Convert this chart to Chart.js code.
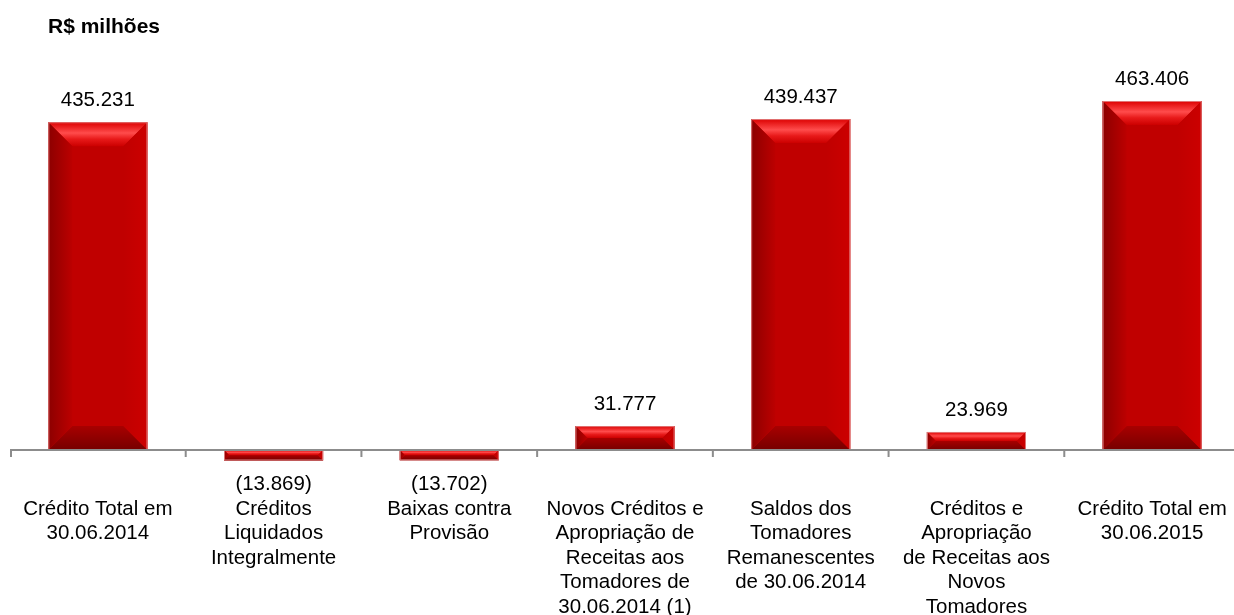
<!DOCTYPE html>
<html>
<head>
<meta charset="utf-8">
<script src="https://cdn.jsdelivr.net/npm/chart.js@4.4.1/dist/chart.umd.min.js"></script>
<style>
  html, body { margin: 0; padding: 0; background: #fff; overflow: hidden; }
  #wrap { position: relative; width: 1240px; height: 615px; }
</style>
</head>
<body>
<div id="wrap"><canvas id="chart"></canvas></div>
<script>
const categories = [
  ["Crédito Total em", "30.06.2014"],
  ["Créditos", "Liquidados", "Integralmente"],
  ["Baixas contra", "Provisão"],
  ["Novos Créditos e", "Apropriação de", "Receitas aos", "Tomadores de", "30.06.2014 (1)"],
  ["Saldos dos", "Tomadores", "Remanescentes", "de 30.06.2014"],
  ["Créditos e", "Apropriação", "de Receitas aos", "Novos", "Tomadores"],
  ["Crédito Total em", "30.06.2015"]
];
const values = [435231, -13869, -13702, 31777, 439437, 23969, 463406];
const unitLabel = "R$ milhões";

const FONT = '"Liberation Sans", Arial, sans-serif';

function fmt(v) {
  const s = Math.abs(v).toString().replace(/\B(?=(\d{3})+(?!\d))/g, ".");
  return v < 0 ? "(" + s + ")" : s;
}

function grad(ctx, x0, y0, x1, y1, stops) {
  const g = ctx.createLinearGradient(x0, y0, x1, y1);
  stops.forEach(s => g.addColorStop(s[0], s[1]));
  return g;
}

// bevelled bars, axis line, value labels and the unit title
const decor = {
  id: "decor",
  afterDatasetsDraw(chart) {
    const ctx = chart.ctx;
    const meta = chart.getDatasetMeta(0);
    const yScale = chart.scales.y;
    const xScale = chart.scales.x;
    const zeroY = yScale.getPixelForValue(0);

    meta.data.forEach((bar, i) => {
      const w = bar.width;
      const l = bar.x - w / 2, r = bar.x + w / 2;
      const t = Math.min(bar.y, bar.base), b = Math.max(bar.y, bar.base);
      const h = b - t;
      const bv = Math.min(24, h / 2, w / 2);
      ctx.save();
      // top
      ctx.beginPath();
      ctx.moveTo(l, t); ctx.lineTo(r, t); ctx.lineTo(r - bv, t + bv); ctx.lineTo(l + bv, t + bv); ctx.closePath();
      ctx.fillStyle = grad(ctx, 0, t, 0, t + bv, [[0, "#dc0000"], [0.45, "#ff4c4c"], [0.7, "#e81a1a"], [1, "#cc0000"]]);
      ctx.fill();
      // bottom
      ctx.beginPath();
      ctx.moveTo(l, b); ctx.lineTo(r, b); ctx.lineTo(r - bv, b - bv); ctx.lineTo(l + bv, b - bv); ctx.closePath();
      ctx.fillStyle = grad(ctx, 0, b - bv, 0, b, [[0, "#a80000"], [1, "#760000"]]);
      ctx.fill();
      // left
      ctx.beginPath();
      ctx.moveTo(l, t); ctx.lineTo(l + bv, t + bv); ctx.lineTo(l + bv, b - bv); ctx.lineTo(l, b); ctx.closePath();
      ctx.fillStyle = grad(ctx, l, 0, l + bv, 0, [[0, "#8c0000"], [1, "#bc0000"]]);
      ctx.fill();
      // right
      ctx.beginPath();
      ctx.moveTo(r, t); ctx.lineTo(r - bv, t + bv); ctx.lineTo(r - bv, b - bv); ctx.lineTo(r, b); ctx.closePath();
      ctx.fillStyle = grad(ctx, r - bv, 0, r, 0, [[0, "#c00000"], [1, "#cc0000"]]);
      ctx.fill();
      // thin light edge
      ctx.strokeStyle = "rgba(225,130,130,0.9)";
      ctx.lineWidth = 1;
      ctx.strokeRect(l + 0.5, t + 0.5, w - 1, h - 1);
      ctx.restore();
    });

    // axis line with boundary ticks
    ctx.save();
    ctx.strokeStyle = "#8c8c8c";
    ctx.lineWidth = 2;
    ctx.beginPath();
    ctx.moveTo(chart.chartArea.left, zeroY);
    ctx.lineTo(chart.chartArea.right, zeroY);
    const n = categories.length;
    for (let i = 0; i <= n; i++) {
      let x;
      if (i === 0) x = chart.chartArea.left + 1;
      else if (i === n) x = chart.chartArea.right - 1;
      else x = (xScale.getPixelForValue(i - 1) + xScale.getPixelForValue(i)) / 2;
      ctx.moveTo(x, zeroY);
      ctx.lineTo(x, zeroY + 7);
    }
    ctx.stroke();
    ctx.restore();

    // value labels
    ctx.save();
    ctx.font = "20.5px " + FONT;
    ctx.fillStyle = "#000";
    ctx.textAlign = "center";
    ctx.textBaseline = "middle";
    meta.data.forEach((bar, i) => {
      const v = values[i];
      if (v >= 0) ctx.fillText(fmt(v), bar.x, bar.y - 22);
      else ctx.fillText(fmt(v), bar.x, bar.y + 24);
    });
    // unit title
    ctx.font = "bold 21px " + FONT;
    ctx.textAlign = "left";
    ctx.fillText(unitLabel, 48, 27);
    ctx.restore();
  }
};

new Chart(document.getElementById("chart"), {
  type: "bar",
  data: {
    labels: categories,
    datasets: [{
      data: values,
      backgroundColor: "#c00000",
      borderWidth: 0,
      barPercentage: 0.564,
      categoryPercentage: 1
    }]
  },
  options: {
    responsive: true,
    maintainAspectRatio: false,
    animation: false,
    layout: { padding: { left: 10, right: 0, top: 50, bottom: 0 } },
    plugins: {
      legend: { display: false },
      tooltip: { enabled: false },
      title: { display: false }
    },
    scales: {
      y: {
        display: false,
        min: -19917,
        max: 531124
      },
      x: {
        grid: { display: false },
        border: { display: false },
        afterFit: s => { s.height = 150; s.paddingLeft = 0; s.paddingRight = 0; },
        ticks: {
          color: "#000",
          padding: 24,
          maxRotation: 0,
          autoSkip: false,
          font: { family: FONT, size: 20.5, lineHeight: 24.5 / 20.5 }
        }
      }
    }
  },
  plugins: [decor]
});
</script>
</body>
</html>
